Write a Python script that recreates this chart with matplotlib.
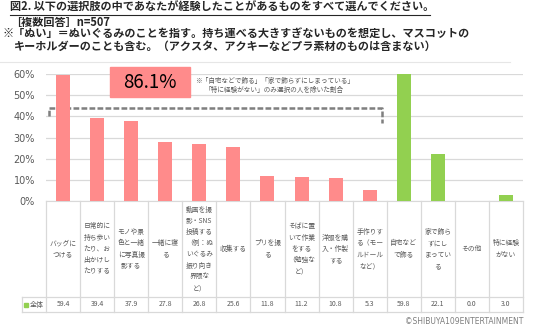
import matplotlib
matplotlib.use("Agg")
import matplotlib.pyplot as plt
from matplotlib.patches import Rectangle
from matplotlib.lines import Line2D

plt.rcParams['font.family'] = ['Noto Sans CJK JP', 'DejaVu Sans']

# data
categories = [
    "バッグに\nつける",
    "日常的に\n持ち歩い\nたり、お\n出かけし\nたりする",
    "モノや景\n色と一緒\nに写真撮\n影する",
    "一緒に寝\nる",
    "動画を撮\n影・SNS\n投稿する\n（例：ぬ\nいぐるみ\n振り向き\n界隈な\nど）",
    "収集する",
    "プリを撮\nる",
    "そばに置\nいて作業\nをする\n（勉強な\nど）",
    "洋服を購\n入・作製\nする",
    "手作りす\nる（モー\nルドール\nなど）",
    "自宅など\nで飾る",
    "家で飾ら\nずにし\nまってい\nる",
    "その他",
    "特に経験\nがない",
]
values = [59.4, 39.4, 37.9, 27.8, 26.8, 25.6, 11.8, 11.2, 10.8, 5.3, 59.8, 22.1, 0.0, 3.0]
groups = ["act"] * 10 + ["disp"] * 4
yticks = [0, 10, 20, 30, 40, 50, 60]
highlight = "86.1%"

W, H = 536, 329
PINK = "#FF8B8B"
GREEN = "#92D050"
GRID = "#D9D9D9"
TXT = "#595959"


def fx(x):
    return x / W


def fy(y):
    return 1 - y / H


fig = plt.figure(figsize=(W / 100, H / 100), dpi=100)
fig.patch.set_facecolor("white")

# plot area (pixels: x 46..523, y 74..201)
ax = fig.add_axes([fx(46), fy(201), (523 - 46) / W, (201 - 74) / H])
n = len(values)
colors = [PINK if g == "act" else GREEN for g in groups]
ax.bar(range(n), values, width=0.41, color=colors, zorder=3)
ax.set_xlim(-0.5, n - 0.5)
ax.set_ylim(0, 60)
ax.set_yticks(yticks)
ax.set_yticklabels([f"{t}%" for t in yticks], fontsize=7, color=TXT,
                   family=['DejaVu Sans'])
ax.set_xticks([])
ax.tick_params(axis="y", length=0, pad=8)
ax.grid(axis="y", color=GRID, linewidth=0.9, zorder=0)
for s in ["left", "right", "top"]:
    ax.spines[s].set_visible(False)
ax.spines["bottom"].set_color(GRID)

# bracket drawn behind the bars
bracket = Line2D([fx(49), fx(49), fx(382), fx(382)],
                 [fy(116), fy(107.5), fy(107.5), fy(123)],
                 color="#7F7F7F", linewidth=1.8, linestyle=(0, (2.3, 0.9)),
                 transform=fig.transFigure, clip_on=False, zorder=2)
ax.add_line(bracket)

# data table under the chart
tbl_top, tbl_mid, tbl_bot = 201, 297, 312
col_w = (523 - 46) / n
for i in range(n + 1):
    x = 46 + i * col_w
    fig.add_artist(Line2D([fx(x), fx(x)], [fy(tbl_top), fy(tbl_bot)],
                          color=GRID, linewidth=0.9))
fig.add_artist(Line2D([fx(22), fx(22)], [fy(tbl_mid), fy(tbl_bot)],
                      color=GRID, linewidth=0.9))
for y in (tbl_mid, tbl_bot):
    fig.add_artist(Line2D([fx(22), fx(523)], [fy(y), fy(y)],
                          color=GRID, linewidth=0.9))
for i, (lab, v) in enumerate(zip(categories, values)):
    cx = 46 + (i + 0.5) * col_w
    fig.text(fx(cx), fy(249), lab, fontsize=4.9, color=TXT, ha="center",
             va="center", linespacing=1.55)
    fig.text(fx(cx), fy(304.5), f"{v:.1f}", fontsize=5, color=TXT,
             ha="center", va="center")
fig.add_artist(Rectangle((fx(24), fy(307)), 4 / W, 4 / H, color=GREEN,
                         transform=fig.transFigure))
fig.text(fx(30), fy(304.5), "全体", fontsize=5, color=TXT, va="center")

# highlight box
fig.add_artist(Rectangle((fx(110), fy(97)), 80 / W, 30 / H, color=PINK,
                         transform=fig.transFigure, zorder=5))
fig.text(fx(150), fy(82), highlight, fontsize=13.5, ha="center", va="center",
         color="black", zorder=6)
fig.text(fx(195), fy(81), "※「自宅などで飾る」「家で飾らずにしまっている」",
         fontsize=4.8, color=TXT, va="center")
fig.text(fx(205), fy(89.5), "「特に経験がない」のみ選択の人を除いた割合",
         fontsize=4.8, color=TXT, va="center")

# header texts
fig.text(fx(10), fy(7.5), "図2. 以下の選択肢の中であなたが経験したことがあるものをすべて選んでください。",
         fontsize=8, fontweight="bold", color="#262626", va="center")
fig.add_artist(Line2D([fx(10), fx(430)], [fy(15), fy(15)], color="#262626",
                      linewidth=0.8))
fig.text(fx(10), fy(22), "［複数回答］n=507", fontsize=8, fontweight="bold",
         color="#262626", va="center")
fig.text(fx(3), fy(34), "※「ぬい」＝ぬいぐるみのことを指す。持ち運べる大きすぎないものを想定し、マスコットの",
         fontsize=8, fontweight="bold", color="#262626", va="center")
fig.text(fx(14), fy(46), "キーホルダーのことも含む。（アクスタ、アクキーなどプラ素材のものは含まない）",
         fontsize=8, fontweight="bold", color="#262626", va="center")
fig.add_artist(Line2D([fx(0), fx(510)], [fy(62), fy(62)], color="#E6E6E6",
                      linewidth=0.8))

fig.text(fx(523), fy(321), "©SHIBUYA109ENTERTAINMENT", fontsize=5.5,
         color="#7F7F7F", ha="right", va="center", family=['DejaVu Sans'])

fig.savefig("out.png", dpi=100, facecolor="white")
